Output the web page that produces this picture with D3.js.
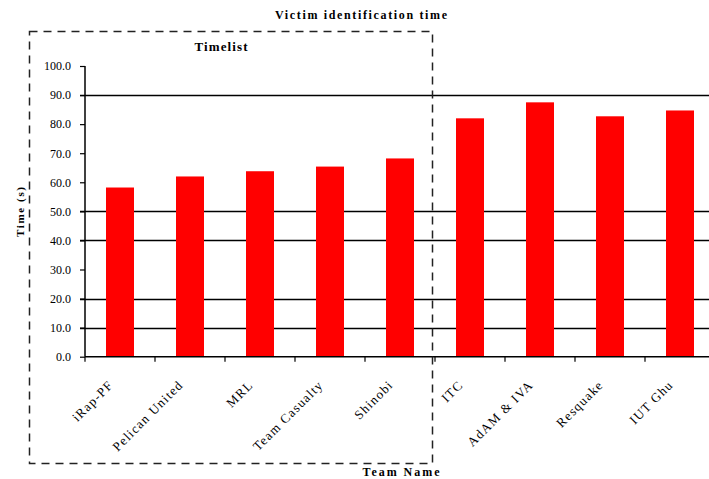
<!DOCTYPE html>
<html>
<head>
<meta charset="utf-8">
<script src="https://cdn.jsdelivr.net/npm/d3@7"></script>
<style>
  html, body { margin: 0; padding: 0; background: #fff; }
  svg { display: block; }
</style>
</head>
<body>
<svg id="chart" width="709" height="479"></svg>
<script>
// Team names along the x axis
const teams = ["iRap-PF", "Pelican United", "MRL", "Team Casualty", "Shinobi",
               "ITC", "AdAM & IVA", "Resquake", "IUT Ghu"];
// Victim identification time per team, in seconds
const times = [58.2, 62.0, 63.8, 65.4, 68.2, 82.0, 87.5, 82.7, 84.7];
// Y axis tick values and the horizontal gridlines shown
const yTicks = [0, 10, 20, 30, 40, 50, 60, 70, 80, 90, 100];
const gridValues = [90, 50, 40, 20, 10];
// Number of teams inside the "Timelist" frame
const timelistCount = 5;

const svg = d3.select("#chart");
const serif = "'Liberation Serif', 'DejaVu Serif', serif";

const x0 = 85, plotTop = 66, plotBottom = 356.7, band = 70;
const x = d3.scaleBand()
  .domain(teams)
  .range([x0, x0 + band * teams.length])
  .paddingInner(0.6)
  .paddingOuter(0.3);
const y = d3.scaleLinear().domain([0, 100]).range([plotBottom, plotTop]);

// Gridlines
svg.append("g").selectAll("line")
  .data(gridValues)
  .join("line")
  .attr("x1", x0 - 5).attr("x2", 709)
  .attr("y1", d => Math.round(y(d)) + 0.5).attr("y2", d => Math.round(y(d)) + 0.5)
  .attr("stroke", "#000").attr("stroke-width", 1.5);

// Bars
svg.append("g").selectAll("rect")
  .data(teams)
  .join("rect")
  .attr("x", d => x(d))
  .attr("width", x.bandwidth())
  .attr("y", (d, i) => y(times[i]))
  .attr("height", (d, i) => y(0) - y(times[i]))
  .attr("fill", "#ff0000");

// Y axis
const yAxis = svg.append("g")
  .attr("transform", `translate(${x0},0)`)
  .call(d3.axisLeft(y).tickValues(yTicks).tickFormat(d3.format(".1f")).tickSize(5).tickPadding(9));
yAxis.select(".domain").attr("stroke", "#000").attr("stroke-width", 1.5).attr("d", `M0,${plotTop}V${plotBottom}`);
yAxis.selectAll(".tick line").attr("stroke", "#000").attr("stroke-width", 1.2);
yAxis.selectAll("text").attr("font-family", serif).attr("font-size", 12).attr("fill", "#000");

// X axis with ticks at category boundaries
const xAxisG = svg.append("g").attr("transform", `translate(0,${plotBottom})`);
xAxisG.append("line")
  .attr("x1", x0).attr("x2", 709).attr("y1", 0).attr("y2", 0)
  .attr("stroke", "#000").attr("stroke-width", 1.5);
xAxisG.selectAll("line.tk")
  .data(d3.range(teams.length + 1))
  .join("line").attr("class", "tk")
  .attr("x1", i => x0 + i * band).attr("x2", i => x0 + i * band)
  .attr("y1", 0).attr("y2", 5)
  .attr("stroke", "#000").attr("stroke-width", 1.2);

// Rotated category labels
svg.append("g").selectAll("text")
  .data(teams)
  .join("text")
  .attr("transform", d => `translate(${x(d) + x.bandwidth() / 2 - 6},${plotBottom + 29}) rotate(-45)`)
  .attr("text-anchor", "end")
  .attr("font-family", serif)
  .attr("font-size", 13)
  .attr("letter-spacing", 1.2)
  .text(d => d);

// Dashed frame around the first group of teams
const frameRight = x0 + band * timelistCount - 2.5;
svg.append("rect")
  .attr("x", 29.5).attr("y", 31.5)
  .attr("width", frameRight - 29.5).attr("height", 432)
  .attr("fill", "none")
  .attr("stroke", "#222").attr("stroke-width", 1.5)
  .attr("stroke-dasharray", "8,6");

svg.append("text")
  .attr("x", 221).attr("y", 51)
  .attr("text-anchor", "middle")
  .attr("font-family", serif).attr("font-weight", "bold").attr("font-size", 13)
  .attr("textLength", 53).attr("lengthAdjust", "spacing")
  .text("Timelist");

// Title
svg.append("text")
  .attr("x", 361).attr("y", 19)
  .attr("text-anchor", "middle")
  .attr("font-family", serif).attr("font-weight", "bold").attr("font-size", 12)
  .attr("textLength", 172).attr("lengthAdjust", "spacing")
  .text("Victim identification time");

// Axis titles
svg.append("text")
  .attr("x", 401).attr("y", 476)
  .attr("text-anchor", "middle")
  .attr("font-family", serif).attr("font-weight", "bold").attr("font-size", 12)
  .attr("textLength", 77).attr("lengthAdjust", "spacing")
  .text("Team Name");

svg.append("text")
  .attr("transform", "translate(24,212) rotate(-90)")
  .attr("text-anchor", "middle")
  .attr("font-family", serif).attr("font-weight", "bold").attr("font-size", 11)
  .attr("textLength", 50).attr("lengthAdjust", "spacing")
  .text("Time (s)");
</script>
</body>
</html>
